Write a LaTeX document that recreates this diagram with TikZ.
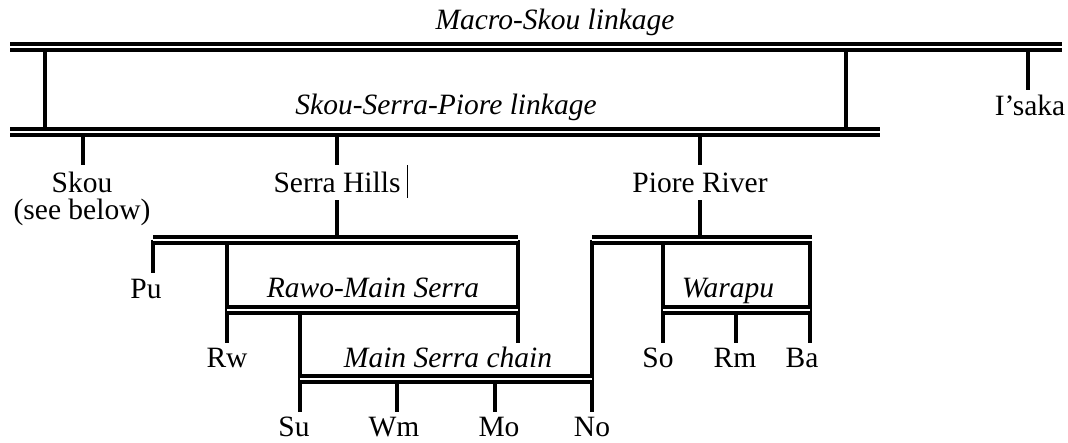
\documentclass[tikz,border=0pt]{standalone}
\usepackage{fontspec}
\setmainfont{Liberation Serif}
\begin{document}
\begin{tikzpicture}[x=1pt,y=-1pt,
  lbl/.style={anchor=base, inner sep=0pt, font=\fontsize{29.5}{27}\selectfont},
  ilbl/.style={anchor=base, inner sep=0pt, font=\fontsize{29.5}{27}\selectfont\itshape},
  vline/.style={line width=3.4pt},
  dbl/.style={line width=3.6pt, double, double distance=2pt},
  dblb/.style={line width=3.9pt, double, double distance=1.3pt},
  cursor/.style={line width=0.9pt}]
\useasboundingbox (0,0) rectangle (1068,442);
% labels
\node[ilbl] (macro) at (555,29) {Macro-Skou linkage};
\node[ilbl] (ssp) at (446,114) {Skou-Serra-Piore linkage};
\node[lbl] (isaka) at (1030,115) {I'saka};
\node[lbl, align=center] (skou) at (82,219) {Skou\\(see below)};
\node[lbl] (serra) at (337,192) {Serra Hills};
\node[lbl] (piore) at (700,192) {Piore River};
\node[lbl] (pu) at (146,298) {Pu};
\node[ilbl] (rawo) at (373,297) {Rawo-Main Serra};
\node[lbl] (rw) at (227,367) {Rw};
\node[ilbl] (msc) at (448,367) {Main Serra chain};
\node[lbl] (su) at (294,436) {Su};
\node[lbl] (wm) at (394,436) {Wm};
\node[lbl] (mo) at (499,436) {Mo};
\node[lbl] (no) at (592,436) {No};
\node[ilbl] (warapu) at (728,297) {Warapu};
\node[lbl] (so) at (658,367) {So};
\node[lbl] (rm) at (735,367) {Rm};
\node[lbl] (ba) at (802,367) {Ba};
% coordinates
\coordinate (mL) at (10,47);   \coordinate (mR) at (1062,47);
\coordinate (sL) at (10,132);  \coordinate (sR) at (880,132);
\coordinate (m1) at (45,47);   \coordinate (s1) at (45,132);
\coordinate (m2) at (846,47);  \coordinate (s2) at (846,132);
\coordinate (mI) at (1028,47); \coordinate (iE) at (1028,90);
\coordinate (sk0) at (83,132); \coordinate (sk1) at (83,165);
\coordinate (se0) at (337,132);\coordinate (se1) at (337,165);
\coordinate (se2) at (337,200);\coordinate (se3) at (337,240);
\coordinate (pi0) at (700,132);\coordinate (pi1) at (700,165);
\coordinate (pi2) at (700,200);\coordinate (pi3) at (700,240);
\coordinate (hL) at (153,240); \coordinate (hR) at (518,240);
\coordinate (pu1) at (153,273);
\coordinate (rw0) at (227,240); \coordinate (rw1) at (227,343);
\coordinate (r0) at (518,343);
\coordinate (rwl) at (227,310); \coordinate (rwr) at (518,310);
\coordinate (su0) at (300,310); \coordinate (su1) at (300,412);
\coordinate (cL) at (300,379);  \coordinate (cR) at (592,379);
\coordinate (wm0) at (397,379); \coordinate (wm1) at (397,412);
\coordinate (mo0) at (495,379); \coordinate (mo1) at (495,412);
\coordinate (no0) at (592,240); \coordinate (no1) at (592,412);
\coordinate (pL) at (592,240);  \coordinate (pR) at (812,240);
\coordinate (so0) at (663,240); \coordinate (so1) at (663,343);
\coordinate (ba0) at (810,240); \coordinate (ba1) at (810,343);
\coordinate (wL) at (663,310);  \coordinate (wR) at (810,310);
\coordinate (rm0) at (736,310); \coordinate (rm1) at (736,343);
\coordinate (cu0) at (407,165); \coordinate (cu1) at (407,198);
% vertical connectors
\draw[vline] (m1) -- (s1);
\draw[vline] (m2) -- (s2);
\draw[vline] (mI) -- (iE);
\draw[vline] (sk0) -- (sk1);
\draw[vline] (se0) -- (se1);
\draw[vline] (se2) -- (se3);
\draw[vline] (pi0) -- (pi1);
\draw[vline] (pi2) -- (pi3);
\draw[vline] (hL) -- (pu1);
\draw[vline] (rw0) -- (rw1);
\draw[vline] (hR) -- (r0);
\draw[vline] (su0) -- (su1);
\draw[vline] (wm0) -- (wm1);
\draw[vline] (mo0) -- (mo1);
\draw[vline] (no0) -- (no1);
\draw[vline] (so0) -- (so1);
\draw[vline] (ba0) -- (ba1);
\draw[vline] (rm0) -- (rm1);
\draw[cursor] (cu0) -- (cu1);
% horizontal double lines
\draw[dbl] (mL) -- (mR);
\draw[dbl] (sL) -- (sR);
\draw[dbl] (hL) -- (hR);
\draw[dbl] (pL) -- (pR);
\draw[dblb] (rwl) -- (rwr);
\draw[dblb] (cL) -- (cR);
\draw[dblb] (wL) -- (wR);
\end{tikzpicture}
\end{document}
